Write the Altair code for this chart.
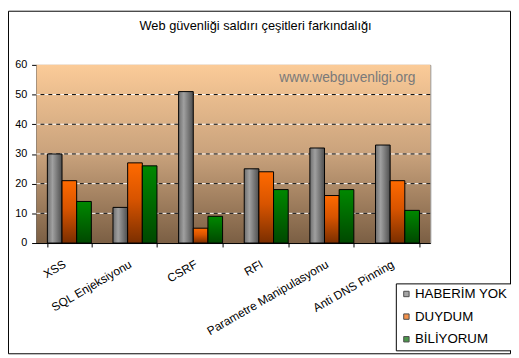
import altair as alt
import pandas as pd

categories = ["XSS", "SQL Enjeksiyonu", "CSRF", "RFI", "Parametre Manipulasyonu", "Anti DNS Pinning"]
series = ["HABERİM YOK", "DUYDUM", "BİLİYORUM"]
haberim_yok = [30, 12, 51, 25, 32, 33]
duydum = [21, 27, 5, 24, 16, 21]
biliyorum = [14, 26, 9, 18, 18, 11]
y_ticks = [0, 10, 20, 30, 40, 50, 60]
grid_values = [10, 20, 30, 40, 50]
legend_colors = ["#808080", "#F26500", "#006A00"]
title_text = "Web güvenliği saldırı çeşitleri farkındalığı"
watermark_text = "www.webguvenligi.org"

rows = []
for s, vals in zip(series, [haberim_yok, duydum, biliyorum]):
    for c, v in zip(categories, vals):
        rows.append({"kategori": c, "seri": s, "deger": v})
df = pd.DataFrame(rows)
grid_df = pd.DataFrame({"deger": grid_values})
one = pd.DataFrame({"a": [0]})

W, H = 400, 181
FONT = "Liberation Sans"


def grad(stops, horizontal=False):
    return alt.LinearGradient(
        gradient="linear",
        stops=[alt.GradientStop(color=c, offset=o) for o, c in stops],
        x1=0, y1=0,
        x2=1 if horizontal else 0,
        y2=0 if horizontal else 1,
    )


x_enc = alt.X(
    "kategori:N", sort=categories,
    scale=alt.Scale(domain=categories, paddingInner=0.33, paddingOuter=0.165),
    axis=alt.Axis(title=None, labelAngle=-30, labelAlign="right", labelBaseline="middle",
                  labelPadding=16, labelOffset=-5, tickBand="extent", tickSize=4,
                  domainColor="black", tickColor="black", labelColor="black",
                  labelFontSize=12, labelFont=FONT, grid=False, labelOverlap=False),
)
y_enc = alt.Y(
    "deger:Q",
    scale=alt.Scale(domain=[0, 60], nice=False, zero=True),
    axis=alt.Axis(title=None, values=y_ticks, grid=False, tickSize=5, labelPadding=5,
                  domainColor="black", tickColor="black", labelColor="black",
                  labelFontSize=11, labelFont=FONT),
)
xoff = alt.XOffset("seri:N", sort=series,
                   scale=alt.Scale(domain=series, paddingInner=0, paddingOuter=0))

background = alt.Chart(one).mark_rect(
    color=grad([(0, "#FBCB98"), (0.5, "#C9A27C"), (1, "#7B5F44")])
).encode(x=alt.value(0), x2=alt.value(W), y=alt.value(0), y2=alt.value(H))

grid_white = alt.Chart(grid_df).mark_rule(color="white", strokeWidth=1).encode(y=y_enc)
grid_black = alt.Chart(grid_df).mark_rule(color="black", strokeWidth=1, strokeDash=[4, 4]).encode(y=y_enc)

bar_grads = [
    grad([(0, "#6E6E6E"), (0.35, "#A0A0A0"), (1, "#4E4E4E")], horizontal=True),
    grad([(0, "#FF6A00"), (0.45, "#D85400"), (1, "#7A2E00")]),
    grad([(0, "#008800"), (1, "#004800")]),
]


def bar_layer(name, g):
    return alt.Chart(df).transform_filter(alt.datum.seri == name).mark_bar(
        color=g, stroke="black", strokeWidth=1
    ).encode(x=x_enc, xOffset=xoff, y=y_enc)


bars = [bar_layer(s, g) for s, g in zip(series, bar_grads)]

watermark = alt.Chart(one).mark_text(
    text=watermark_text, align="right", baseline="alphabetic",
    font=FONT, fontSize=14, color="#7A7A7A"
).encode(x=alt.value(W - 15), y=alt.value(17))

title = alt.Chart(one).mark_text(
    text=title_text, align="center", baseline="alphabetic",
    font=FONT, fontSize=13, color="black"
).encode(x=alt.value(222.5), y=alt.value(-35))

legend_layer = alt.Chart(df).transform_filter("false").mark_square().encode(
    color=alt.Color("seri:N", sort=series,
                    scale=alt.Scale(domain=series, range=legend_colors),
                    legend=alt.Legend(title=None, orient="none", legendX=365, legendY=222,
                                      strokeColor="black", fillColor="white", padding=4,
                                      symbolType="square", symbolSize=30,
                                      symbolStrokeColor="black", symbolStrokeWidth=1,
                                      labelFont=FONT, labelFontSize=13.5, labelColor="black",
                                      labelOffset=2, rowPadding=8))
)

frame = alt.Chart(one).mark_rect(fillOpacity=0, stroke="black", strokeWidth=1).encode(
    x=alt.value(-28.5), x2=alt.value(481.5), y=alt.value(-54.5), y2=alt.value(293.5)
)

chart = alt.layer(background, grid_white, grid_black, *bars, watermark, title, legend_layer, frame).properties(
    width=W, height=H,
    autosize=alt.AutoSizeParams(type="none"),
    padding={"left": 29, "top": 55, "right": 82, "bottom": 113},
    background="white",
).configure_view(stroke="#808080", strokeWidth=1)

chart.save("out.html", embed_options={"renderer": "svg", "actions": False})
